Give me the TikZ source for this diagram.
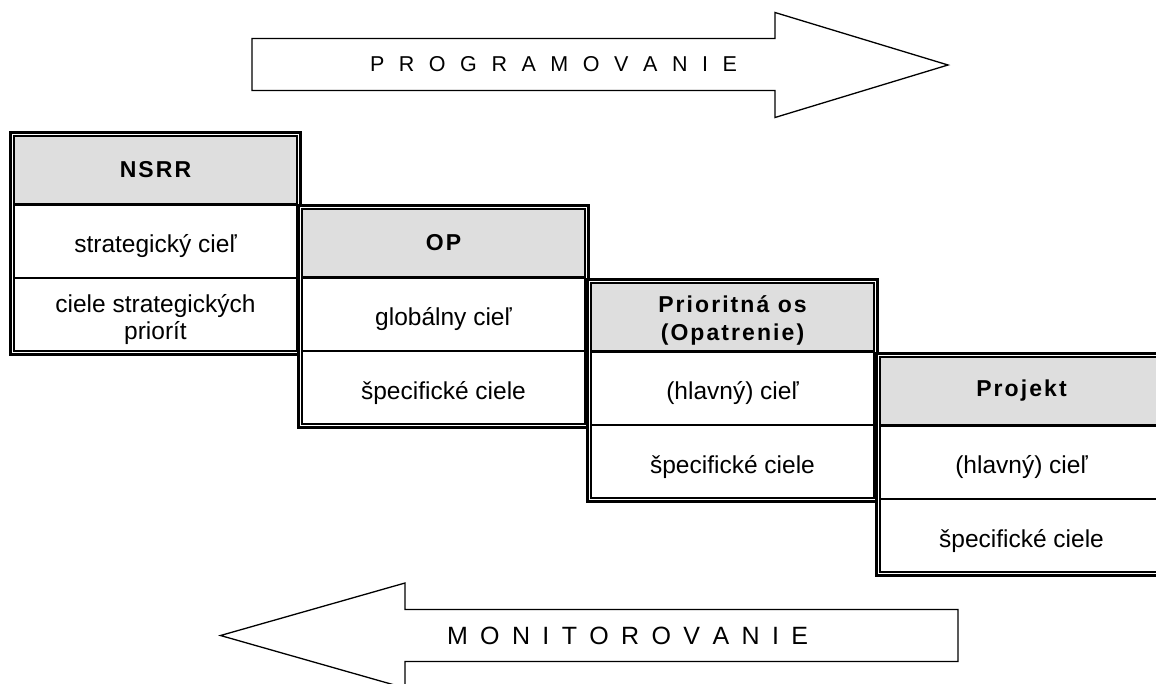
\documentclass[tikz,border=0pt]{standalone}
\usepackage{fontspec}
\setmainfont{Liberation Sans}
\newfontfamily\hdrfont[LetterSpace=9]{Liberation Sans}
\definecolor{hdrgray}{HTML}{DEDEDE}
\tikzset{
  hdr/.style={fill=hdrgray, draw=none, minimum width=285, minimum height=69, inner sep=0pt, align=center, font=\hdrfont\bfseries\fontsize{23}{28}\selectfont},
  cell/.style={draw=none, minimum width=285, minimum height=64, inner sep=0pt, align=center, font=\fontsize{24.5}{27}\selectfont},
  outerb/.style={line width=3pt},
  innerb/.style={line width=1.6pt},
  hline/.style={line width=3pt},
  rline/.style={line width=1.2pt},
  bigarrow/.style={draw, line width=1.3pt, fill=white, line join=miter},
  arrtext/.style={inner sep=0pt, anchor=center}
}
% #1 name, #2 x0, #3 y0, #4 header, #5 row1, #6 row2, #7 header text shift
\newcommand\tabl[7]{%
  \begin{scope}[shift={(#2,#3)}]
    \fill[white] (0,0) rectangle (293,225);
    \fill[hdrgray] (5,5) rectangle (288,73);
    \node[hdr, fill=none] (#1h) at (146.5,38.5+#7) {#4};
    \node[cell] (#1a) at (146.5,115) {#5};
    \node[cell] (#1b) at (146.5,189) {#6};
    \draw[outerb] (1.5,1.5) rectangle (291.5,223.5);
    \draw[innerb] (5,5) rectangle (288,220);
    \draw[hline] (5,73) -- (288,73);
    \draw[rline] (5,147) -- (288,147);
  \end{scope}}
\begin{document}
\begin{tikzpicture}[x=1pt, y=-1pt]
  \useasboundingbox (0,0) rectangle (1156,683);
  \fill[white] (0,0) rectangle (1156,683);
  % top arrow
  \draw[bigarrow] (252,38.5) -- (775,38.5) -- (775,12.5) -- (948,65) -- (775,117.5) -- (775,90.5) -- (252,90.5) -- cycle;
  \node[arrtext, font=\fontsize{21.5}{24}\selectfont] (prog) at (553.5,64.5)
    {\makebox[367pt]{P\hfill R\hfill O\hfill G\hfill R\hfill A\hfill M\hfill O\hfill V\hfill A\hfill N\hfill I\hfill E}};
  % tables
  \tabl{t1}{9}{131}{NSRR}{strategický cieľ}{ciele strategických\\priorít}{0}
  \tabl{t2}{297}{204}{OP}{globálny cieľ}{špecifické ciele}{0}
  \tabl{t3}{586}{278}{Prioritná os\\(Opatrenie)}{(hlavný) cieľ}{špecifické ciele}{4}
  \tabl{t4}{875}{352}{Projekt}{(hlavný) cieľ}{špecifické ciele}{0}
  % bottom arrow
  \draw[bigarrow] (958,609.5) -- (405,609.5) -- (405,583) -- (220.5,635.5) -- (405,688) -- (405,661.5) -- (958,661.5) -- cycle;
  \node[arrtext, font=\fontsize{25}{28}\selectfont] (mon) at (627.5,635.5)
    {\makebox[361pt]{M\hfill O\hfill N\hfill I\hfill T\hfill O\hfill R\hfill O\hfill V\hfill A\hfill N\hfill I\hfill E}};
\end{tikzpicture}
\end{document}
